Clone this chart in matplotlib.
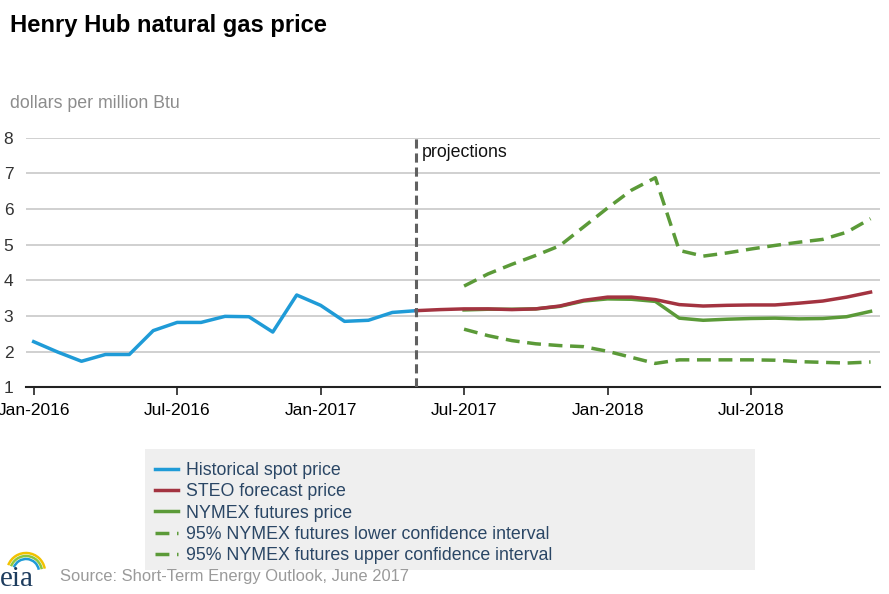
import matplotlib
matplotlib.use("Agg")
import matplotlib.pyplot as plt
from matplotlib.patches import Rectangle, Arc
import numpy as np

plt.rcParams['font.family'] = ['Liberation Sans', 'DejaVu Sans']

# month index 0 = Jan-2016
hist_months = np.arange(0, 17)
hist_price = [2.28, 1.99, 1.73, 1.92, 1.92, 2.59, 2.82, 2.82, 2.99, 2.98, 2.55, 3.59,
              3.30, 2.85, 2.88, 3.10, 3.15]

steo_months = np.arange(16, 36)
steo_price = [3.15, 3.18, 3.20, 3.20, 3.18, 3.20, 3.28, 3.44, 3.53, 3.53, 3.46, 3.32,
              3.28, 3.30, 3.31, 3.31, 3.36, 3.42, 3.53, 3.67]

nymex_months = np.arange(18, 36)
nymex_price = [3.17, 3.19, 3.19, 3.20, 3.27, 3.42, 3.48, 3.47, 3.41, 2.94, 2.88, 2.91,
               2.93, 2.94, 2.92, 2.93, 2.98, 3.13]
lower_ci = [2.63, 2.45, 2.31, 2.22, 2.17, 2.14, 2.01, 1.84, 1.67, 1.77, 1.77, 1.77,
            1.77, 1.76, 1.72, 1.70, 1.68, 1.71]
upper_ci = [3.84, 4.18, 4.45, 4.70, 4.97, 5.50, 6.03, 6.53, 6.88, 4.84, 4.68, 4.77,
            4.88, 4.98, 5.07, 5.15, 5.35, 5.73]

tick_months = [0, 6, 12, 18, 24, 30]
tick_labels = ['Jan-2016', 'Jul-2016', 'Jan-2017', 'Jul-2017', 'Jan-2018', 'Jul-2018']

blue = '#1f9bd7'
red = '#a33340'
green = '#5b9a38'

fig = plt.figure(figsize=(8.89, 5.94), dpi=100)
ax = fig.add_axes([0.029, 0.348, 0.961, 0.42])

ax.plot(hist_months, hist_price, color=blue, lw=2.5, label='Historical spot price')
ax.plot(steo_months, steo_price, color=red, lw=2.5, label='STEO forecast price', zorder=3)
ax.plot(nymex_months, nymex_price, color=green, lw=2.5, label='NYMEX futures price')
ax.plot(nymex_months, lower_ci, color=green, lw=2.5, ls=(0, (4, 2.2)),
        label='95% NYMEX futures lower confidence interval')
ax.plot(nymex_months, upper_ci, color=green, lw=2.5, ls=(0, (4, 2.2)),
        label='95% NYMEX futures upper confidence interval')

ax.axvline(16, color='#606060', lw=2.2, ls=(0, (3, 1.6)), zorder=4)
ax.text(16.25, 7.58, 'projections', fontsize=12.8, va='center', ha='left', color='#111111')

ax.set_xlim(-0.33, 35.4)
ax.set_ylim(1, 8)
ax.set_yticks(range(1, 9))
ax.yaxis.grid(True, color='#c8c8c8', lw=1.2)
ax.set_axisbelow(True)
ax.set_xticks(tick_months)
ax.set_xticklabels(tick_labels)
ax.tick_params(axis='x', length=6, width=1.2, color='#222222', labelsize=12.5, pad=5)
ax.tick_params(axis='y', length=0, labelsize=12.5, pad=9, labelcolor='#333333')
for s in ['top', 'right', 'left']:
    ax.spines[s].set_visible(False)
ax.spines['bottom'].set_color('#222222')
ax.spines['bottom'].set_linewidth(1.5)

fig.text(0.011, 0.957, 'Henry Hub natural gas price', fontsize=17.1, fontweight='bold',
         ha='left', va='center')
fig.text(0.011, 0.825, 'dollars per million Btu', fontsize=12.8, color='#8c8c8c',
         ha='left', va='center')

# legend background box
fig.patches.append(Rectangle((145 / 889, 1 - 570 / 594), 610 / 889, 121 / 594,
                             transform=fig.transFigure, facecolor='#efefef',
                             edgecolor='none', zorder=0))
leg = fig.legend(handles=ax.lines[:5], loc='upper left',
                 bbox_to_anchor=(0.158, 0.246), frameon=False, fontsize=12.8,
                 handlelength=1.3, handletextpad=0.45, labelspacing=0.24,
                 borderpad=0.3)
for t in leg.get_texts():
    t.set_color('#2a4665')

fig.text(0.067, 0.029, 'Source: Short-Term Energy Outlook, June 2017', fontsize=11.9,
         color='#9a9a9a', ha='left', va='center')

# eia logo
fig.text(0.0, 0.025, 'eia', fontsize=21, family='Liberation Serif', color='#1d3c5e',
         ha='left', va='center')
for r, c in [(19, '#f2c200'), (16, '#8cc63f'), (13, '#1f9bd7')]:
    fig.patches.append(Arc((26 / 889, 1 - 572 / 594), 2 * r / 889, 2 * r / 594,
                           theta1=15, theta2=150, transform=fig.transFigure,
                           color=c, lw=1.8))

fig.savefig('out.png', dpi=100)
